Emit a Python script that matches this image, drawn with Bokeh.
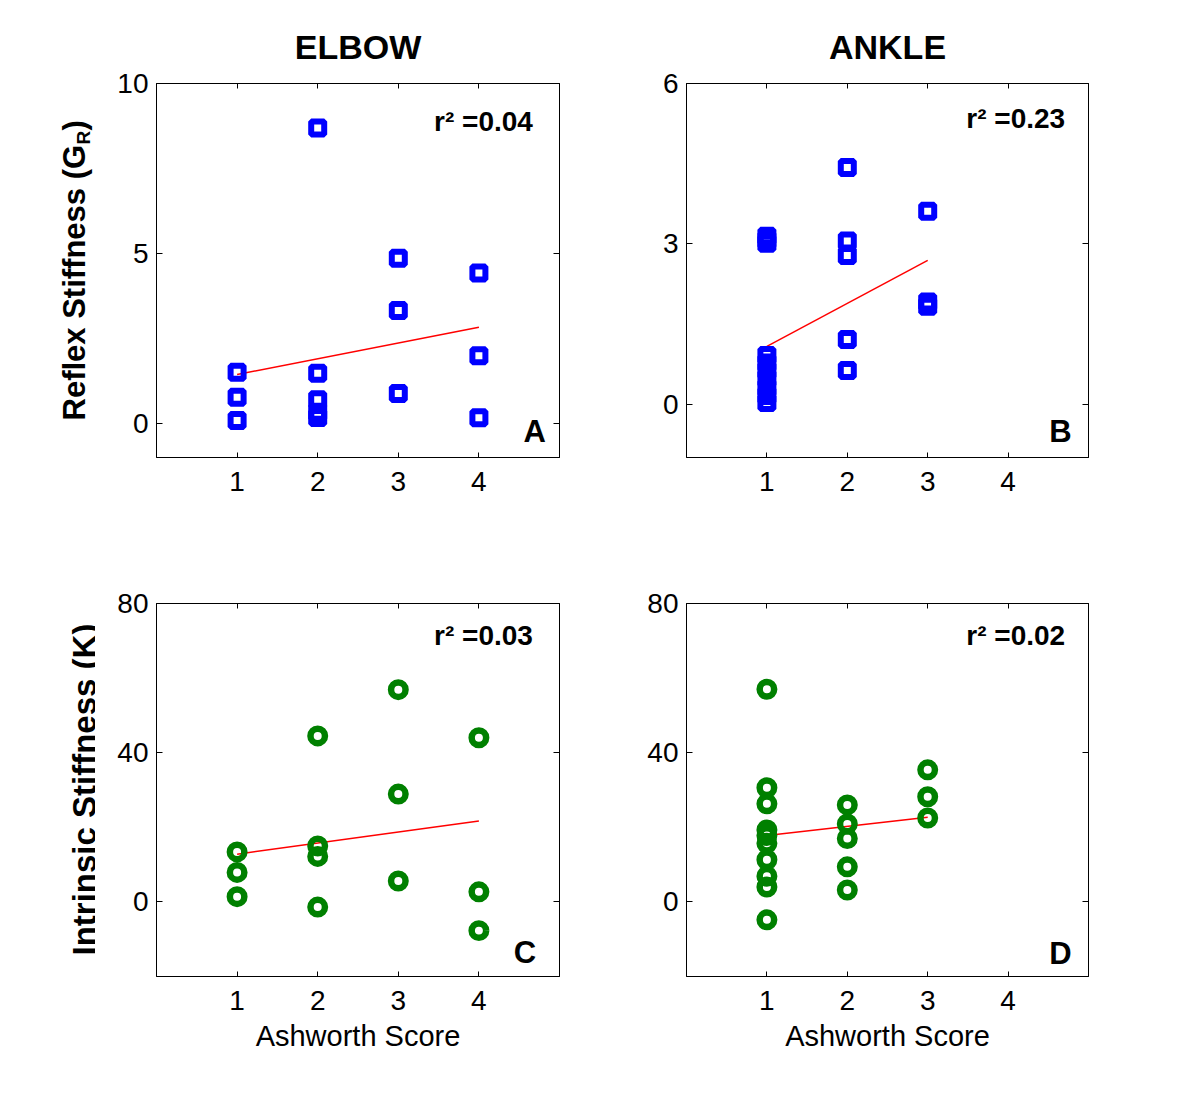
import math
from bokeh.plotting import figure
from bokeh.models import LinearAxis, Range1d, Label, FixedTicker
from bokeh.layouts import column, row
from bokeh.embed import file_html
from bokeh.resources import INLINE

# ---------------- data ----------------
score_ticks = [1, 2, 3, 4]

# A: elbow reflex stiffness
elbow_reflex_score = [1, 1, 1, 2, 2, 2, 2, 2, 3, 3, 3, 4, 4, 4]
elbow_reflex_gain = [1.51, 0.77, 0.09, 8.69, 1.48, 0.70, 0.33, 0.18, 4.86, 3.32, 0.88, 4.43, 1.99, 0.17]
elbow_reflex_fit_x = [1, 4]
elbow_reflex_fit_y = [1.44, 2.83]
elbow_reflex_r2 = "0.04"

# B: ankle reflex stiffness
ankle_reflex_score = [1, 1, 1, 1, 1, 1, 1, 1, 1, 1, 2, 2, 2, 2, 2, 3, 3, 3]
ankle_reflex_gain = [3.14, 3.07, 3.01, 0.91, 0.77, 0.63, 0.48, 0.30, 0.16, 0.03,
                     4.43, 3.05, 2.78, 1.21, 0.63, 3.61, 1.91, 1.83]
ankle_reflex_fit_x = [1, 3]
ankle_reflex_fit_y = [1.08, 2.69]
ankle_reflex_r2 = "0.23"

# C: elbow intrinsic stiffness
elbow_intr_score = [1, 1, 1, 2, 2, 2, 2, 3, 3, 3, 4, 4, 4]
elbow_intr_k = [13.4, 7.9, 1.4, 44.5, 15.0, 12.2, -1.4, 56.9, 28.9, 5.6, 44.0, 2.7, -7.7]
elbow_intr_fit_x = [1, 4]
elbow_intr_fit_y = [12.8, 21.7]
elbow_intr_r2 = "0.03"

# D: ankle intrinsic stiffness
ankle_intr_score = [1, 1, 1, 1, 1, 1, 1, 1, 1, 1, 2, 2, 2, 2, 2, 3, 3, 3]
ankle_intr_k = [57.0, 30.6, 26.3, 19.3, 17.8, 15.7, 11.3, 6.9, 4.0, -4.8,
                26.0, 20.9, 17.0, 9.4, 3.2, 35.4, 28.2, 22.5]
ankle_intr_fit_x = [1, 3]
ankle_intr_fit_y = [17.8, 22.7]
ankle_intr_r2 = "0.02"

reflex_elbow_ticks = [0, 5, 10]
reflex_ankle_ticks = [0, 3, 6]
intr_ticks = [0, 40, 80]

FONT = "Liberation Sans"
BLUE = "#0000ff"
GREEN = "#008000"
RED = "#ff0000"

ROW1_H = 517
ROW2_H = 559
LABEL_W = 95
# page rows of the plot frames (top, bottom)
ROW1_FRAME = (83, 457)
ROW2_FRAME = (603, 976)


def panel(w, h, bl, br, bt, bb, yr, yticks):
    p = figure(width=w, height=h, x_range=Range1d(0, 5), y_range=Range1d(*yr),
               output_backend="svg", toolbar_location=None,
               min_border_left=bl, min_border_right=br,
               min_border_top=bt, min_border_bottom=bb)
    p.xgrid.visible = False
    p.ygrid.visible = False
    p.outline_line_color = "black"
    p.outline_line_width = 1
    p.background_fill_color = "white"
    p.border_fill_color = "white"
    xax = p.xaxis[0]
    yax = p.yaxis[0]
    for ax, ticks, tin in ((xax, score_ticks, 5), (yax, yticks, 6)):
        ax.ticker = FixedTicker(ticks=ticks)
        ax.major_tick_in = tin
        ax.major_tick_out = 0
        ax.minor_tick_line_color = None
        ax.axis_line_color = "black"
        ax.major_tick_line_color = "black"
        ax.major_label_text_font = FONT
        ax.major_label_text_font_size = "28px"
        ax.major_label_text_color = "black"
    xax.major_label_standoff = 14
    yax.major_label_standoff = 8
    p.add_layout(LinearAxis(ticker=FixedTicker(ticks=yticks), major_tick_in=6, major_tick_out=0,
                            minor_tick_line_color=None, major_label_text_font_size="1px",
                            major_label_text_color=None,
                            major_label_standoff=0, axis_line_color="black"), "right")
    p.add_layout(LinearAxis(ticker=FixedTicker(ticks=score_ticks), major_tick_in=5, major_tick_out=0,
                            minor_tick_line_color=None, major_label_text_font_size="1px",
                            major_label_text_color=None,
                            major_label_standoff=0, axis_line_color="black"), "above")
    return p, xax, yax


def label_column(h, top_offset, frame):
    # frame of this figure is aligned with the plot frames of its row;
    # its y range is set so that one unit equals one pixel (y measured up from the row bottom)
    f = figure(width=LABEL_W, height=h, x_range=Range1d(0, LABEL_W),
               y_range=Range1d(h - (frame[1] - top_offset), h - (frame[0] - top_offset)),
               output_backend="svg", toolbar_location=None,
               x_axis_location=None, y_axis_location=None,
               min_border_left=0, min_border_right=0, min_border_top=0, min_border_bottom=0)
    f.xgrid.visible = False
    f.ygrid.visible = False
    f.outline_line_color = None
    f.background_fill_color = "white"
    f.border_fill_color = "white"
    return f


def add_texts(p, r2, r2x, r2y, letter, lx, ly):
    p.add_layout(Label(x=r2x, y=r2y, text="r² =" + r2, text_align="right",
                       text_baseline="middle", text_font=FONT, text_font_style="bold",
                       text_font_size="28px", text_color="black"))
    p.add_layout(Label(x=lx, y=ly, text=letter, text_align="right",
                       text_baseline="middle", text_font=FONT, text_font_style="bold",
                       text_font_size="31px", text_color="black"))


def title(p, t):
    p.title.text = t
    p.title.align = "center"
    p.title.text_font = FONT
    p.title.text_font_size = "34px"
    p.title.text_font_style = "bold"
    p.title.text_color = "black"
    p.title.standoff = 35


vert = dict(angle=math.pi / 2, text_font=FONT, text_font_style="bold", text_color="black",
            text_align="left", text_baseline="middle")

# ---- row 1 ----
LA = label_column(ROW1_H, 0, ROW1_FRAME)
LA.add_layout(Label(x=74, y=ROW1_H - 420, text="Reflex Stiffness (G", text_font_size="31px", **vert))
LA.add_layout(Label(x=83, y=ROW1_H - 144, text="R", text_font_size="19px", **vert))
LA.add_layout(Label(x=74, y=ROW1_H - 130, text=")", text_font_size="31px", **vert))

pA, xA, yA = panel(569 - LABEL_W, ROW1_H, 156 - LABEL_W, 10, 83, 60, (-1, 10), reflex_elbow_ticks)
title(pA, "ELBOW")
pA.line(elbow_reflex_fit_x, elbow_reflex_fit_y, line_color=RED, line_width=1.5)
pA.scatter(elbow_reflex_score, elbow_reflex_gain, marker="square", size=13, line_width=6,
           line_color=BLUE, fill_color=None)
add_texts(pA, elbow_reflex_r2, 4.67, 8.88, "A", 4.83, -0.24)

pB, xB, yB = panel(549, ROW1_H, 117, 30, 83, 60, (-1, 6), reflex_ankle_ticks)
title(pB, "ANKLE")
pB.line(ankle_reflex_fit_x, ankle_reflex_fit_y, line_color=RED, line_width=1.5)
pB.scatter(ankle_reflex_score, ankle_reflex_gain, marker="square", size=13, line_width=6,
           line_color=BLUE, fill_color=None)
add_texts(pB, ankle_reflex_r2, 4.71, 5.35, "B", 4.79, -0.51)

# ---- row 2 ----
LC = label_column(ROW2_H, ROW1_H, ROW2_FRAME)
LC.add_layout(Label(x=84, y=ROW2_H - (955 - ROW1_H), text="Intrinsic Stiffness (K)",
                    text_font_size="33px", **vert))

pC, xC, yC = panel(569 - LABEL_W, ROW2_H, 156 - LABEL_W, 10, 86, 100, (-20, 80), intr_ticks)
pC.line(elbow_intr_fit_x, elbow_intr_fit_y, line_color=RED, line_width=1.5)
pC.scatter(elbow_intr_score, elbow_intr_k, marker="circle", size=14.5, line_width=6.5,
           line_color=GREEN, fill_color=None)
add_texts(pC, elbow_intr_r2, 4.67, 71.4, "C", 4.71, -13.5)

pD, xD, yD = panel(549, ROW2_H, 117, 30, 86, 100, (-20, 80), intr_ticks)
pD.line(ankle_intr_fit_x, ankle_intr_fit_y, line_color=RED, line_width=1.5)
pD.scatter(ankle_intr_score, ankle_intr_k, marker="circle", size=14.5, line_width=6.5,
           line_color=GREEN, fill_color=None)
add_texts(pD, ankle_intr_r2, 4.71, 71.4, "D", 4.79, -13.8)

for ax in (xC, xD):
    ax.axis_label = "Ashworth Score"
    ax.axis_label_text_font = FONT
    ax.axis_label_text_font_style = "normal"
    ax.axis_label_text_font_size = "29px"
    ax.axis_label_text_color = "black"
    ax.axis_label_standoff = 7

layout = column(row(LA, pA, pB), row(LC, pC, pD))
open("out.html", "w").write(file_html(layout, INLINE))
